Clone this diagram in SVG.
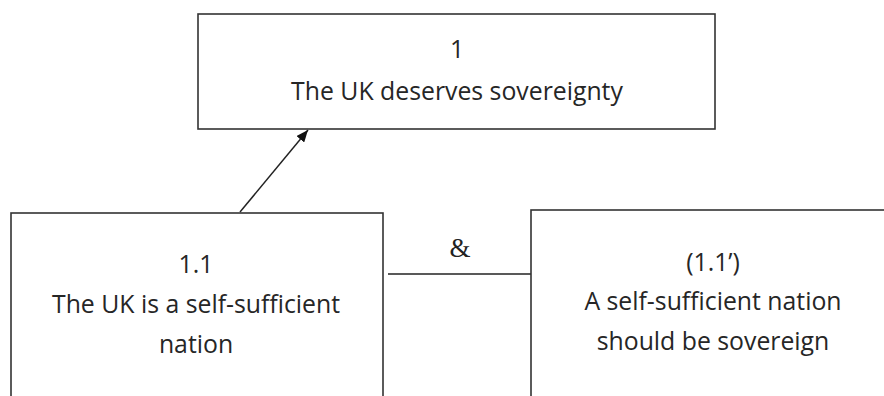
<svg xmlns="http://www.w3.org/2000/svg" width="884" height="396" viewBox="0 0 884 396">
<defs>
<marker id="arrow" viewBox="0 0 12 10" refX="12" refY="5" markerWidth="12" markerHeight="10" markerUnits="userSpaceOnUse" orient="auto">
<path d="M0,0 L12,5 L0,10 z" fill="#111"/>
</marker>
<style>
.box{fill:#fff;stroke:#333;stroke-width:1.6}
.t{font-family:"Open Sans","Liberation Sans",sans-serif;font-size:24.8px;fill:#262626;text-anchor:middle}
.amp{font-family:"Liberation Serif",serif;font-size:27px;fill:#222;text-anchor:middle}
.conn{stroke:#222;stroke-width:1.5;fill:none}
</style>
</defs>
<rect width="884" height="396" fill="#fff"/>
<g id="connectors">
<line class="conn" x1="240" y1="212" x2="308" y2="130" marker-end="url(#arrow)"/>
<line class="conn" x1="388" y1="274" x2="531" y2="274"/>
<text class="amp" x="460" y="257">&amp;</text>
</g>
<g id="node-1">
<rect class="box" x="198" y="14" width="517" height="115"/>
<text class="t" x="457" y="58">1</text>
<text class="t" x="457" y="100">The UK deserves sovereignty</text>
</g>
<g id="node-1-1">
<rect class="box" x="11" y="213" width="372" height="200"/>
<text class="t" x="196" y="273">1.1</text>
<text class="t" x="196" y="313">The UK is a self-sufficient</text>
<text class="t" x="196" y="353">nation</text>
</g>
<g id="node-1-1p">
<rect class="box" x="531" y="210" width="372" height="200"/>
<text class="t" x="713" y="271">(1.1’)</text>
<text class="t" x="713" y="310">A self-sufficient nation</text>
<text class="t" x="713" y="350">should be sovereign</text>
</g>
</svg>
